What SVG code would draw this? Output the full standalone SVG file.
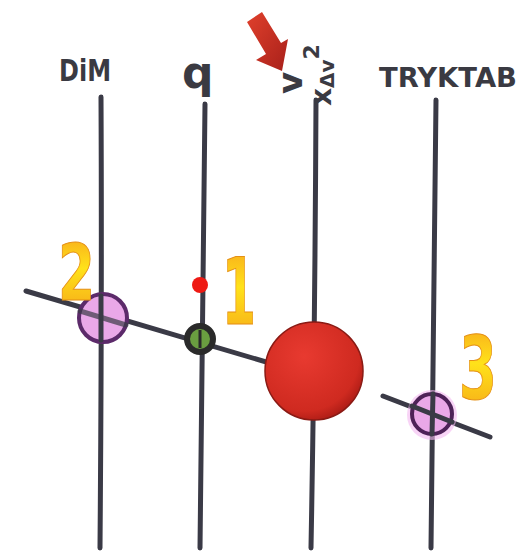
<svg xmlns="http://www.w3.org/2000/svg" width="527" height="551" viewBox="0 0 527 551">
<defs>
<linearGradient id="gold" x1="0" y1="0" x2="0" y2="1">
<stop offset="0" stop-color="#f7a21b"/>
<stop offset="0.45" stop-color="#ffe21a"/>
<stop offset="1" stop-color="#f5a418"/>
</linearGradient>
<radialGradient id="redball" cx="0.4" cy="0.35" r="0.7">
<stop offset="0" stop-color="#e83a30"/>
<stop offset="0.8" stop-color="#cf2a20"/>
<stop offset="1" stop-color="#a81a14"/>
</radialGradient>
<linearGradient id="arrowg" x1="0" y1="0" x2="1" y2="1">
<stop offset="0" stop-color="#e0402c"/>
<stop offset="1" stop-color="#a8201a"/>
</linearGradient>
</defs>
<style>
.ln{fill:none;stroke:#3a3a46;stroke-width:5;stroke-linecap:round}
.lbl{font-family:"DejaVu Sans",sans-serif;font-weight:bold;fill:#3a3a42}
.num{font-family:"DejaVu Sans Condensed","DejaVu Sans",sans-serif;font-weight:bold;fill:url(#gold);stroke:#e59015;stroke-width:1}
</style>
<rect width="527" height="551" fill="#ffffff"/>
<g id="connectors">
<path class="ln" d="M101 97 Q102 300 100 548"/>
<path class="ln" d="M205 104 Q202 320 200 548"/>
<path class="ln" d="M316 100 Q315 330 311 548"/>
<path class="ln" d="M436 100 Q434 320 431 548"/>
<path class="ln" d="M26 291 L300 372"/>
<path class="ln" d="M383 396 L490 437"/>
</g>
<g id="label-dim"><text class="lbl" x="59" y="81" font-size="30" textLength="52" lengthAdjust="spacingAndGlyphs">DiM</text></g>
<g id="label-q"><text class="lbl" x="182" y="88" font-size="44">q</text></g>
<g id="label-v"><text class="lbl" x="0" y="0" font-size="34" transform="translate(302 83) rotate(-90)" text-anchor="middle">v</text></g>
<g id="label-xav"><text class="lbl" x="0" y="0" font-size="28" transform="translate(331 106) rotate(-90)">x<tspan font-size="20" dy="3">Δv</tspan><tspan font-size="22" dy="-15">2</tspan></text></g>
<g id="label-tryktab"><text class="lbl" x="379" y="87" font-size="27" textLength="138" lengthAdjust="spacingAndGlyphs">TRYKTAB</text></g>
<g id="arrow"><path d="M247 22 L262 12 L281 43 L288 39 L282 71 L256 60 L266 54 Z" fill="url(#arrowg)"/></g>
<g id="node-2">
<circle cx="103" cy="318" r="24" fill="#eaa8e8" stroke="#5c2a6a" stroke-width="4"/>
<path class="ln" d="M101 296 L101 340" stroke-width="3"/>
<path class="ln" d="M80 311 L126 325" stroke-width="3" opacity="0.7"/>
<text class="num" x="58" y="300" font-size="78" textLength="37" lengthAdjust="spacingAndGlyphs">2</text>
</g>
<g id="node-1">
<circle cx="200" cy="285" r="8" fill="#ee1a14"/>
<circle cx="200" cy="339" r="13" fill="#6a9e40" stroke="#2a2a2a" stroke-width="6"/>
<path d="M200 330 L200 348" stroke="#2a2a2a" stroke-width="3"/>
<text class="num" x="222" y="324" font-size="92" textLength="34" lengthAdjust="spacingAndGlyphs">1</text>
</g>
<g id="node-v">
<circle cx="314" cy="371" r="49" fill="url(#redball)" stroke="#8a1a14" stroke-width="1.5"/>
</g>
<g id="node-3">
<circle cx="432" cy="415" r="25" fill="#f4b8f0" opacity="0.6"/>
<circle cx="432" cy="414" r="20" fill="#eaa8e8" stroke="#4e2258" stroke-width="4"/>
<path class="ln" d="M433 394 L432 434" stroke-width="3"/>
<path class="ln" d="M412 406 L452 422" stroke-width="3"/>
<text class="num" x="459" y="399" font-size="88" textLength="38" lengthAdjust="spacingAndGlyphs">3</text>
</g>
</svg>
